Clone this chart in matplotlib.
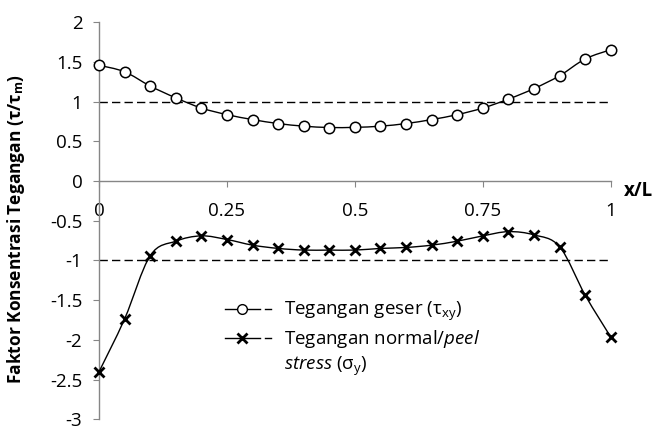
import matplotlib
matplotlib.use("Agg")
import matplotlib.pyplot as plt
import numpy as np
from matplotlib.path import Path
from matplotlib.patches import PathPatch
from matplotlib.lines import Line2D
from matplotlib.legend_handler import HandlerLine2D

plt.rcParams["font.family"] = ["Open Sans", "DejaVu Sans"]
plt.rcParams["mathtext.fontset"] = "custom"
plt.rcParams["mathtext.rm"] = "Open Sans"
plt.rcParams["mathtext.it"] = "Open Sans:italic"
plt.rcParams["mathtext.bf"] = "Open Sans:bold"

# data
x_pos = [0.0, 0.05, 0.1, 0.15, 0.2, 0.25, 0.3, 0.35, 0.4, 0.45, 0.5,
         0.55, 0.6, 0.65, 0.7, 0.75, 0.8, 0.85, 0.9, 0.95, 1.0]
shear = [1.456, 1.374, 1.195, 1.046, 0.918, 0.835, 0.773, 0.723, 0.69, 0.673, 0.675,
         0.69, 0.723, 0.773, 0.835, 0.918, 1.03, 1.163, 1.325, 1.536, 1.652]
peel = [-2.40, -1.735, -0.94, -0.757, -0.69, -0.736, -0.807, -0.848, -0.869, -0.869, -0.869,
        -0.848, -0.836, -0.807, -0.757, -0.69, -0.637, -0.678, -0.827, -1.437, -1.964]
ref_levels = [1.0, -1.0]
x_ticks = [0, 0.25, 0.5, 0.75, 1]
x_tick_labels = ["0", "0.25", "0.5", "0.75", "1"]
y_ticks = [-3, -2.5, -2, -1.5, -1, -0.5, 0, 0.5, 1, 1.5, 2]
y_tick_labels = ["-3", "-2.5", "-2", "-1.5", "-1", "-0.5", "0", "0.5", "1", "1.5", "2"]

AXIS_GREY = "#868686"
FS = 13.5


def smooth_path(xs, ys):
    # excel-like smoothed line: catmull-rom segments as cubic beziers
    pts = np.column_stack([xs, ys])
    n = len(pts)
    verts = [pts[0]]
    codes = [Path.MOVETO]
    for i in range(n - 1):
        p0 = pts[max(i - 1, 0)]
        p1 = pts[i]
        p2 = pts[i + 1]
        p3 = pts[min(i + 2, n - 1)]
        c1 = p1 + (p2 - p0) / 6.0
        c2 = p2 - (p3 - p1) / 6.0
        verts += [c1, c2, p2]
        codes += [Path.CURVE4] * 3
    return Path(verts, codes)


class HandlerDash(HandlerLine2D):
    # legend handle: line with marker, then a short hyphen like excel
    def create_artists(self, legend, orig_handle, xdescent, ydescent,
                       width, height, fontsize, trans):
        line_w = width * 0.67
        arts = super().create_artists(legend, orig_handle, xdescent, ydescent,
                                      line_w, height, fontsize, trans)
        if orig_handle.get_color() == "none":
            return arts
        y = height / 2.0 - ydescent
        x0 = -xdescent + width * 0.77
        dash = Line2D([x0, x0 + width * 0.1], [y, y], color="black", lw=1.0,
                      transform=trans)
        return list(arts) + [dash]


fig = plt.figure(figsize=(6.69, 4.32), dpi=100)
ax = fig.add_axes([0.148, 0.029, 0.765, 0.92])

for lvl in ref_levels:
    ax.plot([x_pos[0], x_pos[-1]], [lvl, lvl], color="black", lw=1.0,
            dashes=(6, 3), zorder=2)

for ys in (shear, peel):
    ax.add_patch(PathPatch(smooth_path(x_pos, ys), fill=False, edgecolor="black",
                           lw=1.0, zorder=3, clip_on=False))

ax.plot(x_pos, shear, ls="none", marker="o", ms=7.5, mfc="white", mec="black",
        mew=1.1, zorder=4, clip_on=False)
ax.plot(x_pos, peel, ls="none", marker="x", ms=7.5, mec="black", mew=2.0,
        zorder=4, clip_on=False)

ax.set_xlim(0, 1)
ax.set_ylim(-3, 2)

ax.spines["left"].set_position(("data", 0))
ax.spines["bottom"].set_position(("data", 0))
ax.spines["right"].set_visible(False)
ax.spines["top"].set_visible(False)
for s in ("left", "bottom"):
    ax.spines[s].set_color(AXIS_GREY)
    ax.spines[s].set_linewidth(1.0)

ax.set_xticks(x_ticks)
ax.set_xticklabels(x_tick_labels)
ax.set_yticks(y_ticks)
ax.set_yticklabels(y_tick_labels)
ax.tick_params(axis="x", direction="out", length=4, color=AXIS_GREY, pad=11, labelsize=FS)
ax.tick_params(axis="y", direction="out", length=4, color=AXIS_GREY, pad=8, labelsize=FS)

ax.text(1.025, -0.12, "x/L", transform=ax.get_yaxis_transform(), fontsize=FS,
        fontweight="bold", ha="left", va="center")

fig.text(0.024, 0.47, r"Faktor Konsentrasi Tegangan (τ/τ$_{\mathbf{m}}$)",
         rotation=90, fontsize=12.5, fontweight="bold", ha="center", va="center")

handles = [
    Line2D([], [], color="black", lw=1.0, marker="o", ms=7, mfc="white", mec="black"),
    Line2D([], [], color="black", lw=1.0, marker="x", ms=7, mec="black", mew=2.0),
    Line2D([], [], color="none"),
]
labels = [
    r"Tegangan geser (τ$_{\rm xy}$)",
    r"Tegangan normal/$\it{peel}$",
    r"$\it{stress}$ (σ$_{\rm y}$)",
]
ax.legend(handles, labels, loc="upper left", bbox_to_anchor=(0.246, 0.3),
          frameon=False, fontsize=FS, handlelength=2.8, handletextpad=0.35,
          labelspacing=0.25, borderaxespad=0, borderpad=0,
          handler_map={Line2D: HandlerDash()})

fig.savefig("out.png", dpi=100)
